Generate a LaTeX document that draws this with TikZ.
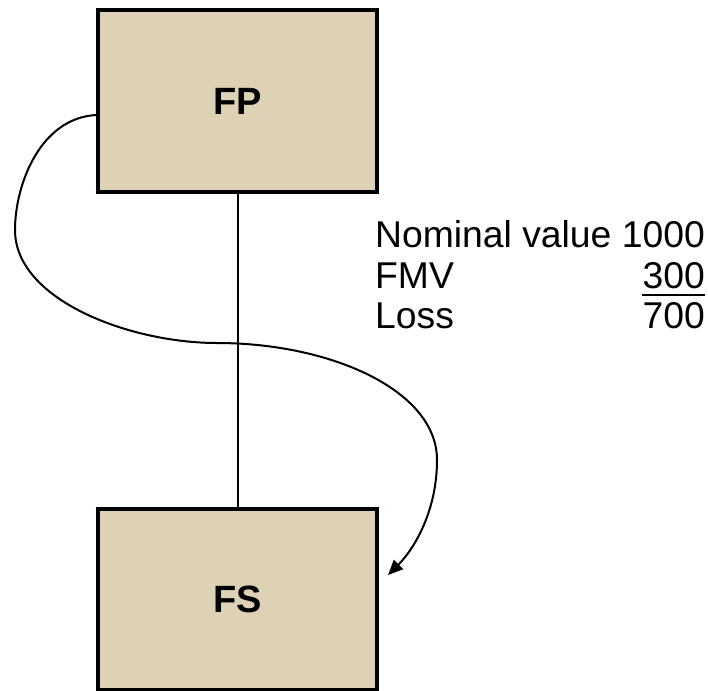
\documentclass[tikz,border=0pt]{standalone}
\usepackage{fontspec}
\setmainfont{Liberation Sans}
\usetikzlibrary{arrows.meta}
\definecolor{boxfill}{RGB}{221,210,182}
\begin{document}
\begin{tikzpicture}[x=1pt,y=-1pt,
  entity/.style={draw=black, line width=3.5pt, fill=boxfill, minimum width=279pt, minimum height=182pt, inner sep=0pt, font=\fontsize{38}{44}\selectfont\bfseries},
  lbl/.style={inner sep=0pt, font=\fontsize{37.3}{42}\selectfont},
  link/.style={line width=2pt}]
\useasboundingbox (0,0) rectangle (708,690);
\node[entity] (FP) at (237.5,101) {FP};
\node[entity, minimum height=181pt] (FS) at (237.5,599.5) {FS};
\draw[link] (FP.south) -- (FS.north);
\coordinate (cstart) at (FP.west |- 0,115);
\coordinate (ctip) at (388,575);
\draw[link, -{Triangle[length=15pt,width=13pt]}] (cstart) .. controls (40,118) and (15,185) .. (15,230)
  .. controls (15,300) and (130,343) .. (217,343)
  .. controls (330,343) and (437,390) .. (437,460)
  .. controls (437,510) and (415,548) .. (ctip);
\node[lbl, anchor=base west] (nom) at (375,247) {Nominal value 1000};
\node[lbl, anchor=base west] (fmv) at (375,288.5) {FMV};
\node[lbl, anchor=base east] (v300) at (nom.base east |- 0,288.5) {300};
\node[lbl, anchor=base west] (loss) at (375,328) {Loss};
\node[lbl, anchor=base east] (v700) at (nom.base east |- 0,328) {700};
\draw[line width=2pt] (v300.west |- 0,294.5) -- (v300.east |- 0,294.5);
\end{tikzpicture}
\end{document}
